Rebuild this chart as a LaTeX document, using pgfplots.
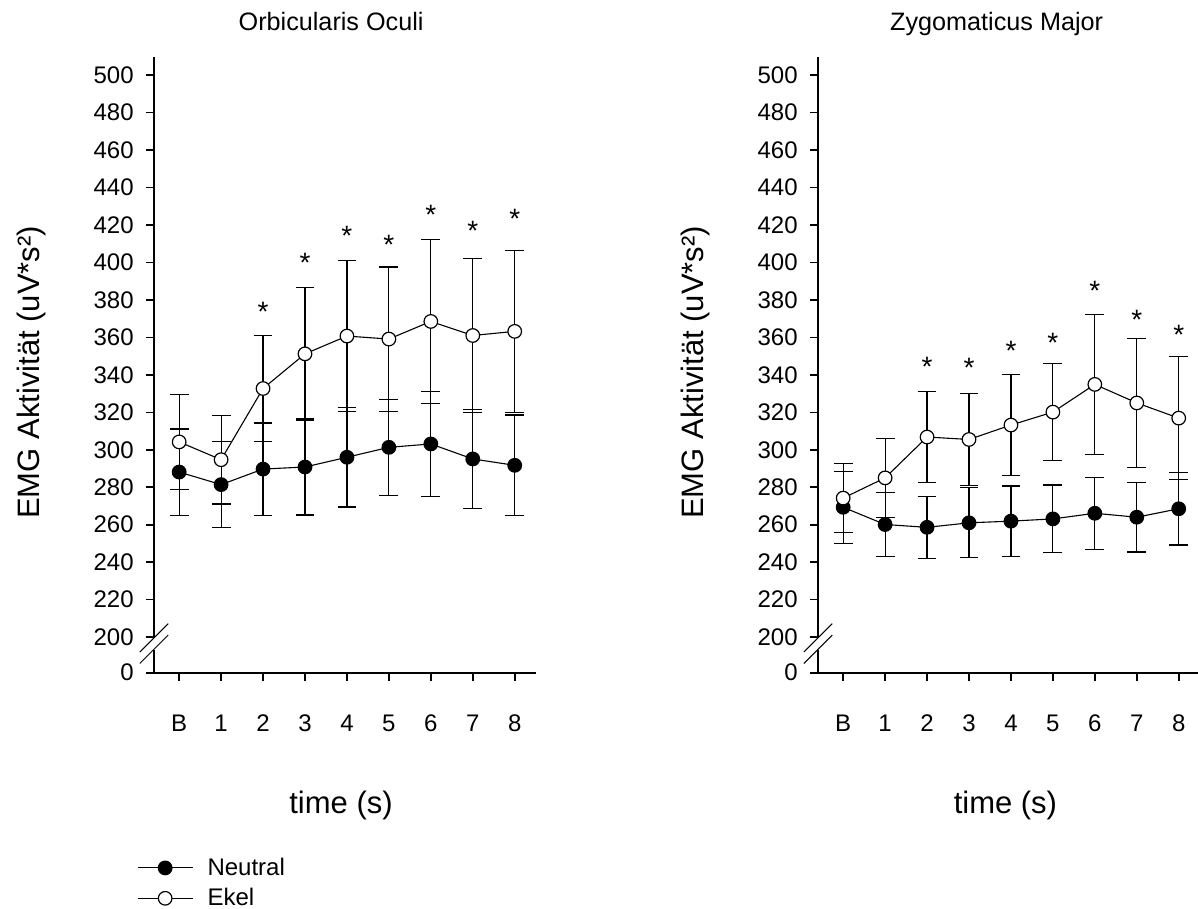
\documentclass[border=0pt]{standalone}
\usepackage{fontspec}
\setmainfont{Liberation Sans}
\usepackage{pgfplots}
\pgfplotsset{compat=1.18}
\pgfplotsset{
  emgaxis/.style={
    scale only axis, width=190.85pt, height=307.7pt,
    xmin=-0.6, xmax=8.5, ymin=181, ymax=509.5,
    axis lines*=left, axis line style={line width=0.8pt},
    xtick={0,1,2,3,4,5,6,7,8}, xticklabels={B,1,2,3,4,5,6,7,8},
    ytick={181,200,220,240,260,280,300,320,340,360,380,400,420,440,460,480,500},
    yticklabels={0,200,220,240,260,280,300,320,340,360,380,400,420,440,460,480,500},
    tick align=outside, major tick length=4pt, tick style={line width=0.8pt, black},
    clip=false,
    /pgf/number format/assume math mode=true,
    tick label style={font=\fontsize{12}{14}\selectfont},
    xticklabel style={anchor=base, yshift=-25.5pt},
    yticklabel style={anchor=east, xshift=-2.65pt},
    label style={font=\fontsize{15.5}{18}\selectfont},
    xlabel={time (s)},
    xlabel style={at={(axis description cs:0.49,-0.2296)}, anchor=base},
    ylabel={EMG Aktivität (uV*s²)},
    ylabel style={at={(axis description cs:-0.301,0.488)}, anchor=base, rotate=0},
  },
  neutral/.style={black, line width=0.55pt, mark=*, mark size=3.4pt,
    mark options={solid, fill=black, line width=0.6pt},
    error bars/.cd, y dir=both, y explicit,
    error mark options={rotate=90, black, mark size=4.7pt, line width=0.6pt},
    error bar style={line width=0.6pt, black}},
  ekel/.style={black, line width=0.55pt, mark=*, mark size=3.4pt,
    mark options={solid, fill=white, line width=0.6pt},
    error bars/.cd, y dir=both, y explicit,
    error mark options={rotate=90, black, mark size=4.7pt, line width=0.6pt},
    error bar style={line width=0.6pt, black}},
  stars/.style={forget plot, draw=none, mark=none, nodes near coords={*},
    every node near coord/.append style={anchor=center, inner sep=0pt, yshift=-3.1pt,
      font=\fontsize{14}{16}\selectfont}},
}
\newcommand{\axisbreak}{%
  \draw[white, line width=3pt] (axis cs:-0.6,199.4) -- (axis cs:-0.6,193.3);
  \draw[line width=0.5pt] (axis cs:-0.6,199.6) ++(-7.1pt,-7.1pt) -- ++(14.2pt,14.2pt);
  \draw[line width=0.5pt] (axis cs:-0.6,193.5) ++(-7.1pt,-7.1pt) -- ++(14.2pt,14.2pt);
}
\begin{document}
\begin{tikzpicture}
\useasboundingbox (-77pt,-118.15pt) rectangle (522pt,336.35pt);
\begin{axis}[emgaxis, at={(0pt,0pt)}, anchor=south west,
  title={Orbicularis Oculi},
  title style={at={(axis description cs:0.464,1.0237)}, anchor=base, inner sep=0pt,
    font=\fontsize{12.6}{14}\selectfont},
  legend style={at={(axis description cs:-0.0453,-0.3)}, anchor=north west,
    draw=none, fill=none, inner sep=0pt, column sep=7.15pt, row sep=5pt,
    nodes={inner sep=0pt}, font=\fontsize{12}{14}\selectfont},
  legend cell align=left,
  legend image code/.code={\draw[mark repeat=2, mark phase=2, #1] plot coordinates {(0pt,0pt) (13.75pt,0pt) (27.5pt,0pt)};},
]
\addplot[neutral] coordinates {
  (0,288.1) +- (0,23.0)
  (1,281.4) +- (0,23.1)
  (2,289.7) +- (0,24.6)
  (3,290.8) +- (0,25.6)
  (4,296.0) +- (0,26.5)
  (5,301.3) +- (0,25.5)
  (6,303.1) +- (0,28.1)
  (7,295.1) +- (0,26.6)
  (8,291.7) +- (0,26.9)
};
\addlegendentry{Neutral}
\addplot[ekel] coordinates {
  (0,304.2) +- (0,25.5)
  (1,294.7) +- (0,23.6)
  (2,332.7) +- (0,28.2)
  (3,351.2) +- (0,35.3)
  (4,360.7) +- (0,40.4)
  (5,359.1) +- (0,38.5)
  (6,368.5) +- (0,43.7)
  (7,361.0) +- (0,41.2)
  (8,363.2) +- (0,43.1)
};
\addlegendentry{Ekel}
\addplot[stars] coordinates {
  (2,377.1) (3,402.9) (4,417.4) (5,412.9) (6,428.8) (7,420.4) (8,426.3)
};
\axisbreak
\end{axis}
\begin{axis}[emgaxis, at={(332pt,0pt)}, anchor=south west,
  title={Zygomaticus Major},
  title style={at={(axis description cs:0.468,1.0237)}, anchor=base, inner sep=0pt,
    font=\fontsize{12.6}{14}\selectfont},
  xlabel style={at={(axis description cs:0.491,-0.2296)}},
]
\addplot[neutral] coordinates {
  (0,269.3) +- (0,19.2)
  (1,260.1) +- (0,16.9)
  (2,258.6) +- (0,16.6)
  (3,261.0) +- (0,18.7)
  (4,261.9) +- (0,18.8)
  (5,263.1) +- (0,18.1)
  (6,266.1) +- (0,19.3)
  (7,264.0) +- (0,18.6)
  (8,268.5) +- (0,19.3)
};
\addplot[ekel] coordinates {
  (0,274.2) +- (0,18.5)
  (1,285.0) +- (0,21.0)
  (2,306.8) +- (0,24.2)
  (3,305.5) +- (0,24.4)
  (4,313.2) +- (0,27.1)
  (5,320.1) +- (0,25.8)
  (6,334.9) +- (0,37.5)
  (7,325.0) +- (0,34.5)
  (8,316.9) +- (0,32.7)
};
\addplot[stars] coordinates {
  (2,347.8) (3,346.9) (4,356.0) (5,360.4) (6,387.9) (7,372.9) (8,364.4)
};
\axisbreak
\end{axis}
\end{tikzpicture}
\end{document}
